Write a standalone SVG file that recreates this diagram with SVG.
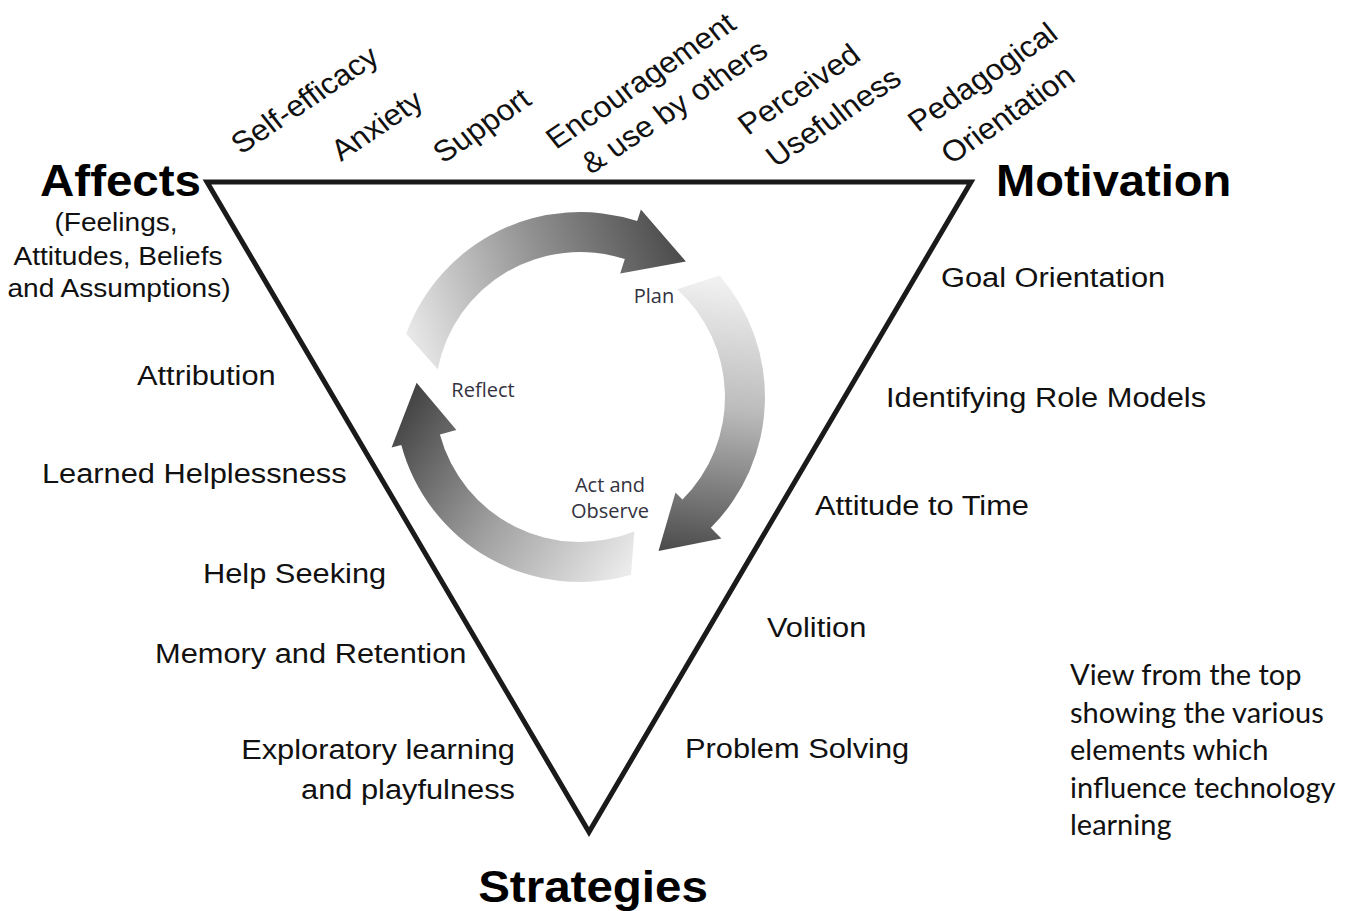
<svg xmlns="http://www.w3.org/2000/svg" width="1352" height="911" viewBox="0 0 1352 911">
<defs>
<style>
.lbl{font-family:"Liberation Sans",Arial,sans-serif;font-size:28px;fill:#111}
.sub{font-size:26px}
.top{font-size:29.5px}
.ttl{font-family:"Liberation Sans",Arial,sans-serif;font-weight:bold;font-size:44px;fill:#000}
.cyc{font-family:"Open Sans","Noto Sans",sans-serif;font-size:20px;fill:#33333f}
.note{font-family:Lato,"Open Sans",sans-serif;font-size:29px;fill:#111}
.tri{fill:none;stroke:#1a1a1a;stroke-width:5;stroke-linejoin:miter}
</style>
<linearGradient id="g1" gradientUnits="userSpaceOnUse" x1="415" y1="350" x2="690" y2="250">
<stop offset="0" stop-color="#e8e8e8"/><stop offset="0.5" stop-color="#929292"/><stop offset="1" stop-color="#474747"/>
</linearGradient>
<linearGradient id="g2" gradientUnits="userSpaceOnUse" x1="700" y1="280" x2="665" y2="552">
<stop offset="0" stop-color="#f0f0f0"/><stop offset="0.45" stop-color="#bcbcbc"/><stop offset="1" stop-color="#4a4a4a"/>
</linearGradient>
<linearGradient id="g3" gradientUnits="userSpaceOnUse" x1="635" y1="560" x2="405" y2="405">
<stop offset="0" stop-color="#ebebeb"/><stop offset="0.5" stop-color="#a0a0a0"/><stop offset="1" stop-color="#444444"/>
</linearGradient>
</defs>
<rect width="1352" height="911" fill="#fff"/>

<g id="triangle">
<polygon class="tri" points="207,182 971,182 589,832"/>
</g>

<g id="connectors">
<path id="arrow-reflect-plan" fill="url(#g1)" d="M 406.2,333.7 A 185 185 0 0 1 637.2,221.1 L 640.9,209.6 L 685.9,261.5 L 620.2,273.4 L 624.8,259.1 A 145 145 0 0 0 437.7,369.3 Z"/>
<path id="arrow-plan-act" fill="url(#g2)" d="M 719.6,275.6 A 185 185 0 0 1 710.8,527.8 L 721.4,538.4 L 658.5,551.1 L 675.5,492.5 L 682.5,499.5 A 145 145 0 0 0 677.0,289.2 Z"/>
<path id="arrow-act-reflect" fill="url(#g3)" d="M 631.0,574.8 A 185 185 0 0 1 401.3,444.9 L 391.6,447.5 L 416.6,382.7 L 456.4,430.1 L 439.9,434.5 A 145 145 0 0 0 634.3,531.4 Z"/>
</g>

<g id="cycle-labels">
<text class="cyc" x="654" y="303" text-anchor="middle">Plan</text>
<text class="cyc" x="483" y="397" text-anchor="middle">Reflect</text>
<text class="cyc" x="610" y="492" text-anchor="middle">Act and</text>
<text class="cyc" x="610" y="518" text-anchor="middle">Observe</text>
</g>

<g id="node-affects">
<text class="ttl" transform="translate(40,196) scale(1.08,1)">Affects</text>
<text class="lbl sub" text-anchor="middle" transform="translate(116,231) scale(1.08,1)">(Feelings,</text>
<text class="lbl sub" text-anchor="middle" transform="translate(118,265) scale(1.08,1)">Attitudes, Beliefs</text>
<text class="lbl sub" text-anchor="middle" transform="translate(119,297) scale(1.08,1)">and Assumptions)</text>
</g>
<g id="node-motivation">
<text class="ttl" transform="translate(996,196) scale(1.07,1)">Motivation</text>
</g>
<g id="node-strategies">
<text class="ttl" text-anchor="middle" transform="translate(593,902) scale(1.08,1)">Strategies</text>
</g>

<g id="top-labels">
<text class="lbl top" transform="translate(241,155) scale(1.08,1) rotate(-36)">Self-efficacy</text>
<text class="lbl top" transform="translate(341,162) scale(1.08,1) rotate(-36)">Anxiety</text>
<text class="lbl top" transform="translate(443,164) scale(1.08,1) rotate(-36)">Support</text>
<text class="lbl top" transform="translate(556,150) scale(1.08,1) rotate(-36)">Encouragement</text>
<text class="lbl top" transform="translate(591,175) scale(1.08,1) rotate(-36)">&amp; use by others</text>
<text class="lbl top" transform="translate(748,136) scale(1.08,1) rotate(-36)">Perceived</text>
<text class="lbl top" transform="translate(776,168) scale(1.08,1) rotate(-36)">Usefulness</text>
<text class="lbl top" transform="translate(918,133) scale(1.08,1) rotate(-36)">Pedagogical</text>
<text class="lbl top" transform="translate(951,165) scale(1.08,1) rotate(-36)">Orientation</text>
</g>

<g id="left-labels">
<text class="lbl" transform="translate(137,385) scale(1.1,1)">Attribution</text>
<text class="lbl" transform="translate(42,483) scale(1.1,1)">Learned Helplessness</text>
<text class="lbl" transform="translate(203,583) scale(1.1,1)">Help Seeking</text>
<text class="lbl" transform="translate(155,663) scale(1.1,1)">Memory and Retention</text>
<text class="lbl" text-anchor="end" transform="translate(515,759) scale(1.1,1)">Exploratory learning</text>
<text class="lbl" text-anchor="end" transform="translate(515,799) scale(1.1,1)">and playfulness</text>
</g>

<g id="right-labels">
<text class="lbl" transform="translate(941,287) scale(1.1,1)">Goal Orientation</text>
<text class="lbl" transform="translate(886,407) scale(1.1,1)">Identifying Role Models</text>
<text class="lbl" transform="translate(815,515) scale(1.1,1)">Attitude to Time</text>
<text class="lbl" transform="translate(767,637) scale(1.1,1)">Volition</text>
<text class="lbl" transform="translate(685,758) scale(1.1,1)">Problem Solving</text>
</g>

<g id="note">
<text class="note" x="1070" y="685">View from the top</text>
<text class="note" x="1070" y="723">showing the various</text>
<text class="note" x="1070" y="760">elements which</text>
<text class="note" x="1070" y="798">influence technology</text>
<text class="note" x="1070" y="835">learning</text>
</g>
</svg>
